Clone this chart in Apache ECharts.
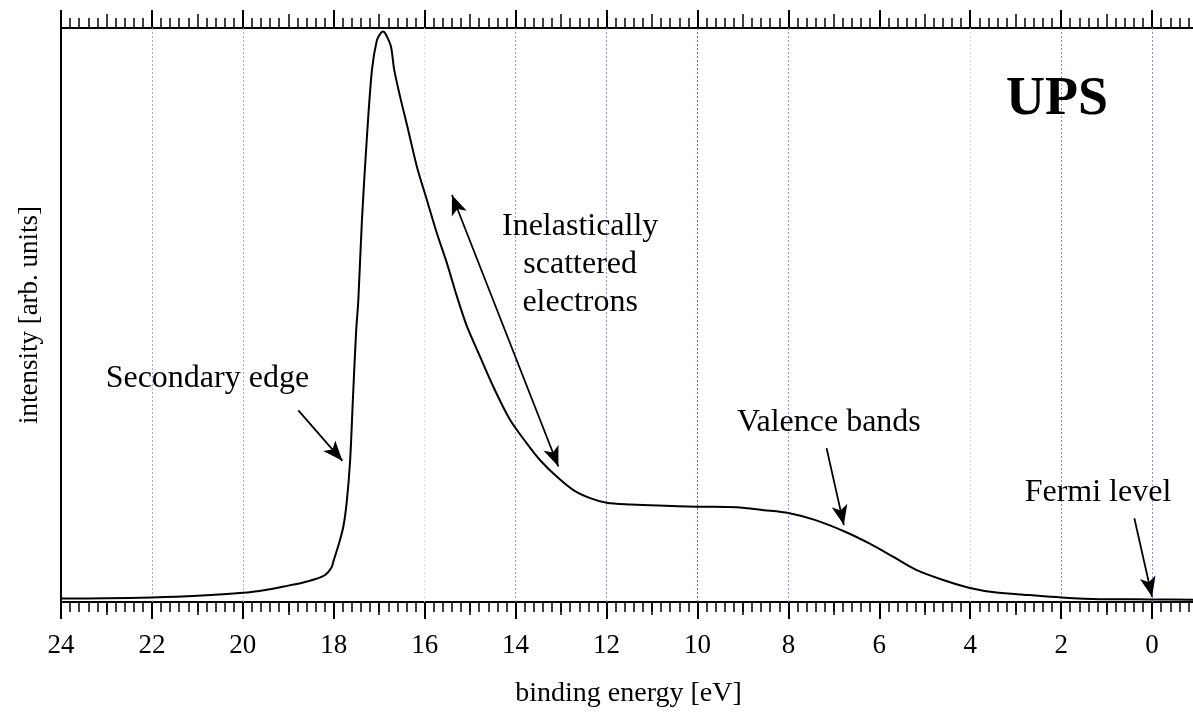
<!DOCTYPE html>
<html>
<head>
<meta charset="utf-8">
<title>UPS spectrum</title>
<script src="https://cdn.jsdelivr.net/npm/echarts@6/dist/echarts.min.js"></script>
<style>
  html, body { margin: 0; padding: 0; background: #ffffff; }
  #chart { width: 1193px; height: 713px; }
</style>
</head>
<body>
<div id="chart"></div>
<script>
// UPS spectrum: binding energy (eV) against intensity (arbitrary units, 0..100)
const energy = [
  24.0, 23.0, 22.0, 21.0, 20.0, 19.5, 19.1, 18.67, 18.4, 18.19, 18.05, 18.0, 17.9, 17.79,
  17.71, 17.64, 17.58, 17.51, 17.46, 17.38, 17.27, 17.16, 17.05, 16.96, 16.91, 16.83,
  16.74, 16.67, 16.54, 16.38, 16.17, 15.95, 15.73, 15.51, 15.29, 15.07, 14.78, 14.49,
  14.12, 13.75, 13.46, 13.09, 12.73, 12.36, 12.0, 11.46, 10.86, 10.0, 9.14, 8.54, 8.0,
  7.42, 6.74, 6.22, 5.70, 5.19, 4.58, 3.98, 3.47, 2.69, 2.0, 1.15, 0.04, -1.0
];
const intensity = [
  0.6, 0.65, 0.8, 1.1, 1.6, 2.1, 2.7, 3.4, 4.0, 4.7, 6.0, 7.3, 9.8, 13.1,
  17.8, 24.7, 35.2, 46.9, 52.6, 66.6, 81.1, 92.7, 97.9, 99.2, 99.4, 98.5,
  96.7, 92.7, 88.0, 82.8, 75.8, 70.0, 64.2, 59.0, 53.2, 48.0, 42.7, 37.5,
  31.7, 27.6, 24.7, 21.8, 19.5, 18.1, 17.3, 17.0, 16.8, 16.6, 16.5, 16.0, 15.5,
  14.3, 12.2, 10.2, 7.9, 5.6, 3.8, 2.4, 1.7, 1.2, 0.8, 0.5, 0.45, 0.4
];

// vertical reference lines (binding energy, eV)
const gridEnergies = [22, 20, 16, 14, 12, 10, 8, 4, 2, 0];

// annotation texts and their anchor points in data coordinates [energy, intensity]
const noteTexts = ['Secondary edge', 'Inelastically\nscattered\nelectrons', 'Valence bands', 'Fermi level'];
const noteAnchors = [[20.78, 39.0], [12.58, 58.7], [7.11, 31.2], [1.19, 19.0]];
const titleText = 'UPS';
const titleAnchor = [2.09, 87.5];

// arrows: [from, to, double-headed]
const arrowFrom = [[18.78, 33.4], [15.40, 70.9], [7.16, 26.8], [0.39, 14.6]];
const arrowTo = [[17.81, 24.6], [13.06, 23.6], [6.78, 13.4], [0.0, 0.9]];
const arrowBoth = [false, true, false, false];

const FONT = '"Liberation Serif", "Times New Roman", Times, serif';

const points = energy.map((e, i) => [e, intensity[i]]);

// colour of each dotted reference line, in the order of gridEnergies
const gridShades = ['#a4a6f6', '#a4a6f6', '#e0e0fc', '#8c8ff5', '#8c8ff5', '#5f62e8',
                    '#8c8ff5', '#d4d5fb', '#7f82f3', '#8c8ff5'];

const baseX = { type: 'value', inverse: true, min: -2, max: 24 };

const chart = echarts.init(document.getElementById('chart'), null, { renderer: 'canvas' });

const gridLineItems = gridEnergies.map((e, i) => ({
  xAxis: e,
  symbol: 'none',
  lineStyle: { color: gridShades[i], type: [2, 2], width: 1 }
}));
const arrowItems = arrowFrom.map((p, i) => [
  { coord: p, symbol: arrowBoth[i] ? 'arrow' : 'none' },
  { coord: arrowTo[i], symbol: 'arrow', lineStyle: { color: '#000', width: 1.8, type: 'solid' } }
]);

const option = {
  backgroundColor: '#ffffff',
  animation: false,
  grid: { left: 61, width: 1182, top: 28, bottom: 111, containLabel: false, outerBoundsMode: 'none' },
  xAxis: [
    Object.assign({}, baseX, {
      position: 'bottom', interval: 2,
      axisLine: { show: true, onZero: false, lineStyle: { color: '#000', width: 2 } },
      axisTick: { show: true, inside: false, length: 17, lineStyle: { color: '#000', width: 2 } },
      minorTick: { show: true, splitNumber: 10, length: 10, lineStyle: { color: '#000', width: 1.5 } },
      axisLabel: { show: true, margin: 30, fontFamily: FONT, fontSize: 27, color: '#000' },
      splitLine: { show: false },
      name: 'binding energy [eV]', nameLocation: 'middle', nameGap: 78,
      nameTextStyle: { fontFamily: FONT, fontSize: 28, color: '#000', padding: [0, 47, 0, 0] }
    }),
    Object.assign({}, baseX, {
      position: 'top', interval: 2,
      axisLine: { show: true, onZero: false, lineStyle: { color: '#000', width: 2 } },
      axisTick: { show: true, inside: false, length: 18, lineStyle: { color: '#000', width: 2 } },
      minorTick: { show: true, splitNumber: 10, length: 10, lineStyle: { color: '#000', width: 1.5 } },
      axisLabel: { show: false }, splitLine: { show: false }
    }),
    Object.assign({}, baseX, {
      position: 'bottom', interval: 1,
      axisLine: { show: false, onZero: false },
      axisTick: { show: true, inside: false, length: 13, lineStyle: { color: '#000', width: 1.5 } },
      axisLabel: { show: false }, splitLine: { show: false }
    }),
    Object.assign({}, baseX, {
      position: 'top', interval: 1,
      axisLine: { show: false, onZero: false },
      axisTick: { show: true, inside: false, length: 14, lineStyle: { color: '#000', width: 1.5 } },
      axisLabel: { show: false }, splitLine: { show: false }
    })
  ],
  yAxis: {
    type: 'value', min: 0, max: 100,
    axisLine: { show: true, onZero: false, lineStyle: { color: '#000', width: 2 } },
    axisTick: { show: false }, axisLabel: { show: false }, splitLine: { show: false },
    name: 'intensity [arb. units]', nameLocation: 'middle', nameGap: 18,
    nameTextStyle: { fontFamily: FONT, fontSize: 27, color: '#000' }
  },
  series: [{
    type: 'line',
    xAxisIndex: 0, yAxisIndex: 0,
    data: points,
    showSymbol: false,
    smooth: 0.3,
    lineStyle: { color: '#000', width: 2, join: 'round' },
    silent: true,
    z: 5,
    markLine: {
      silent: true,
      animation: false,
      symbol: ['none', 'none'],
      symbolSize: [12, 20],
      label: { show: false },
      emphasis: { disabled: true },
      lineStyle: { color: '#000', width: 1.8, type: 'solid' },
      data: gridLineItems.concat(arrowItems)
    }
  }]
};

chart.setOption(option);

// place the text annotations through the axes' own scales
const toPx = (p) => chart.convertToPixel({ xAxisIndex: 0, yAxisIndex: 0 }, p);
const graphics = noteTexts.map((t, i) => {
  const px = toPx(noteAnchors[i]);
  return {
    type: 'text', x: px[0], y: px[1], z: 10,
    style: {
      text: t, fill: '#000', font: '32px ' + FONT,
      textAlign: 'center', textVerticalAlign: 'middle', lineHeight: 38
    }
  };
});
const tp = toPx(titleAnchor);
graphics.push({
  type: 'text', x: tp[0], y: tp[1], z: 10,
  style: { text: titleText, fill: '#000', font: 'bold 54px ' + FONT, textAlign: 'center', textVerticalAlign: 'middle' }
});
chart.setOption({ graphic: graphics });
</script>
</body>
</html>
